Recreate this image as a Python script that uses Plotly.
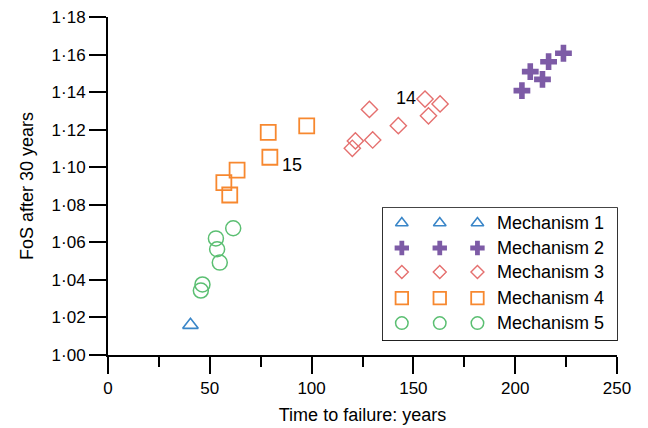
import plotly.graph_objects as go

# Time to failure (years) and factor of safety after 30 years, per failure mechanism
mech1_time = [40.5]
mech1_fos = [1.016]

mech2_time = [203.3, 207.4, 213.4, 216.4, 223.7]
mech2_fos = [1.1408, 1.1509, 1.1468, 1.1562, 1.1607]

mech3_time = [120.0, 121.5, 128.4, 130.0, 142.6, 155.7, 157.4, 163.1]
mech3_fos = [1.1101, 1.1140, 1.1308, 1.1145, 1.1221, 1.1363, 1.1274, 1.1337]

mech4_time = [56.9, 59.8, 63.4, 78.7, 79.5, 97.6]
mech4_fos = [1.0918, 1.0852, 1.0985, 1.1186, 1.1053, 1.1220]

mech5_time = [45.6, 46.4, 53.0, 53.6, 54.9, 61.5]
mech5_fos = [1.0343, 1.0376, 1.0621, 1.0563, 1.0492, 1.0675]

# Labelled cases: (label, time, fos)
case_labels = ["14", "15"]
case_time = [155.7, 79.5]
case_fos = [1.1363, 1.1053]

x_ticks = [0, 50, 100, 150, 200, 250]
y_ticks = [1.00, 1.02, 1.04, 1.06, 1.08, 1.10, 1.12, 1.14, 1.16, 1.18]
y_ticktext = ["1·00", "1·02", "1·04", "1·06", "1·08", "1·10", "1·12", "1·14", "1·16", "1·18"]

legend_names = ["Mechanism 1", "Mechanism 2", "Mechanism 3", "Mechanism 4", "Mechanism 5"]

FONT = "Arial, Liberation Sans, Helvetica, sans-serif"

styles = [
    dict(symbol="triangle-up-open", color="#3A86C8", size=13.5, lw=1.6, lsize=11),
    dict(symbol="cross", color="#7D5BA6", size=14, lw=0, lsize=12),
    dict(symbol="diamond-open", color="#E5706F", size=12.5, lw=1.4, lsize=10),
    dict(symbol="square-open", color="#F7882F", size=15, lw=1.8, lsize=12.5),
    dict(symbol="circle-open", color="#5BBF72", size=15, lw=1.5, lsize=12.5),
]
series = [
    (mech1_time, mech1_fos),
    (mech2_time, mech2_fos),
    (mech3_time, mech3_fos),
    (mech4_time, mech4_fos),
    (mech5_time, mech5_fos),
]

fig = go.Figure()

for name, (xs, ys), st in zip(legend_names, series, styles):
    fig.add_trace(go.Scatter(
        x=xs, y=ys, mode="markers", name=name, showlegend=False,
        marker=dict(symbol=st["symbol"], size=st["size"], color=st["color"],
                    line=dict(color=st["color"], width=st["lw"])),
        xaxis="x", yaxis="y",
    ))

# Case number labels
fig.add_annotation(x=case_time[0], y=case_fos[0], text=case_labels[0], showarrow=False,
                   xanchor="right", yanchor="middle", xshift=-7, yshift=1,
                   font=dict(family=FONT, size=18, color="black"))
fig.add_annotation(x=case_time[1], y=case_fos[1], text=case_labels[1], showarrow=False,
                   xanchor="left", yanchor="middle", xshift=10, yshift=-8,
                   font=dict(family=FONT, size=18, color="black"))

# Boxed key with three sample markers per mechanism, drawn on its own inset axes
key_cols = [0.081, 0.243, 0.404]
key_rows = [0.886, 0.697, 0.515, 0.318, 0.129]
for name, st, ry in zip(legend_names, styles, key_rows):
    fig.add_trace(go.Scatter(
        x=key_cols, y=[ry] * len(key_cols), mode="markers", showlegend=False,
        hoverinfo="skip",
        marker=dict(symbol=st["symbol"], size=st["lsize"], color=st["color"],
                    line=dict(color=st["color"], width=st["lw"] if st["lw"] else 0)),
        xaxis="x2", yaxis="y2",
    ))
    fig.add_annotation(x=0.478, y=ry, xref="x2", yref="y2", text=name, showarrow=False,
                       xanchor="left", yanchor="middle",
                       font=dict(family=FONT, size=18, color="black"))

key_x = [0.54, 1.0]
key_y = [0.044, 0.435]
fig.add_shape(type="rect", xref="paper", yref="paper",
              x0=key_x[0], x1=key_x[1], y0=key_y[0], y1=key_y[1],
              line=dict(color="black", width=1.6), fillcolor="rgba(0,0,0,0)", layer="below")

axis_font = dict(family=FONT, size=17, color="black")
title_font = dict(family=FONT, size=18, color="black")

fig.update_layout(
    width=648, height=428,
    margin=dict(l=108, r=31, t=17, b=73, autoexpand=False),
    paper_bgcolor="white", plot_bgcolor="white",
    showlegend=False,
    font=dict(family=FONT, color="black"),
    xaxis=dict(
        range=[0, 250], tickvals=x_ticks, ticktext=[str(v) for v in x_ticks],
        showgrid=False, zeroline=False, showline=True, linecolor="black", linewidth=2,
        ticks="outside", ticklen=17, tickwidth=2, tickcolor="black",
        minor=dict(dtick=25, ticks="outside", ticklen=10, tickwidth=2, tickcolor="black", showgrid=False),
        tickfont=axis_font, automargin=False,
        title=dict(text="Time to failure: years", font=title_font, standoff=11),
    ),
    yaxis=dict(
        range=[1.0, 1.18], tickvals=y_ticks, ticktext=y_ticktext,
        showgrid=False, zeroline=False, showline=True, linecolor="black", linewidth=2,
        ticks="outside", ticklen=17, tickwidth=2, tickcolor="black",
        tickfont=axis_font, automargin=False,
        title=dict(text="FoS after 30 years", font=title_font, standoff=13),
    ),
    xaxis2=dict(domain=key_x, range=[0, 1], visible=False, anchor="y2", fixedrange=True),
    yaxis2=dict(domain=key_y, range=[0, 1], visible=False, anchor="x2", fixedrange=True),
)

fig.write_html("out.html")
